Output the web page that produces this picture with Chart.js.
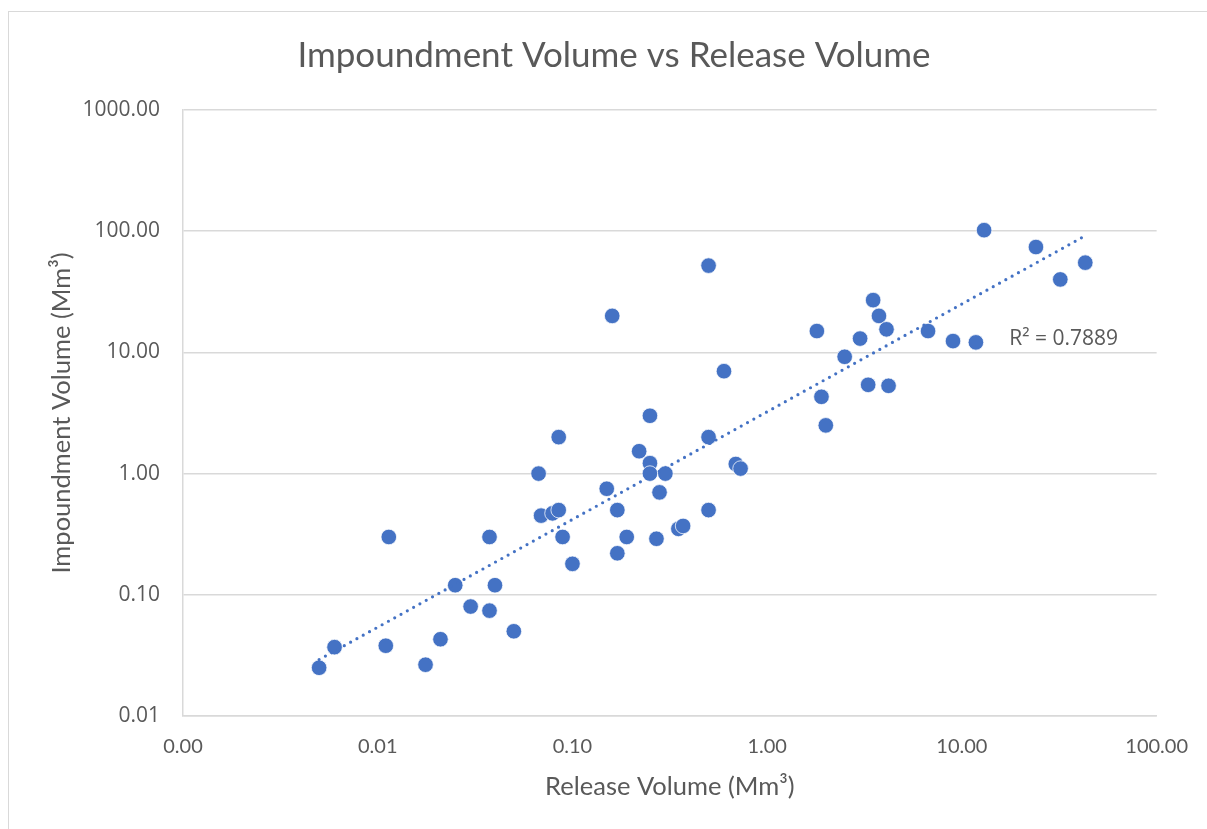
<!DOCTYPE html>
<html>
<head>
<meta charset="utf-8">
<title>Impoundment Volume vs Release Volume</title>
<script src="https://cdn.jsdelivr.net/npm/chart.js@4.4.1/dist/chart.umd.min.js"></script>
<style>
  html, body { margin: 0; padding: 0; background: #fff; overflow: hidden; }
  #frame {
    position: absolute; left: 8px; top: 11px;
    width: 1240px; height: 860px;
    border: 1px solid #d9d9d9; box-sizing: border-box;
  }
  #chart { position: absolute; left: 0; top: 0; }
</style>
</head>
<body>
<div id="frame"></div>
<canvas id="chart" width="1207" height="829"></canvas>
<script>
// Release volume (Mm3) for each tailings dam failure
var releaseVolume = [
  0.005, 0.006, 0.0114, 0.011, 0.0176, 0.021, 0.025, 0.030, 0.0375, 0.0375,
  0.040, 0.050, 0.067, 0.069, 0.079, 0.085, 0.085, 0.089, 0.100, 0.150,
  0.160, 0.170, 0.170, 0.190, 0.220, 0.250, 0.250, 0.250, 0.270, 0.280,
  0.300, 0.350, 0.370, 0.500, 0.500, 0.500, 0.600, 0.690, 0.730, 1.80,
  1.90, 2.00, 2.50, 3.00, 3.30, 3.50, 3.75, 4.10, 4.20, 6.70,
  9.00, 11.8, 13.0, 24.0, 32.0, 43.0
];

// Impoundment volume (Mm3), same order
var impoundmentVolume = [
  0.025, 0.037, 0.30, 0.038, 0.0265, 0.043, 0.12, 0.080, 0.30, 0.074,
  0.12, 0.050, 1.00, 0.45, 0.47, 0.50, 2.0, 0.30, 0.18, 0.75,
  20, 0.50, 0.22, 0.30, 1.53, 3.0, 1.22, 1.00, 0.29, 0.70,
  1.00, 0.35, 0.37, 52, 2.0, 0.50, 7.0, 1.2, 1.1, 15,
  4.3, 2.5, 9.2, 13, 5.4, 27, 20, 15.5, 5.3, 15,
  12.4, 12.1, 102, 74, 40, 55
];

var xTickValues = [0.001, 0.01, 0.1, 1, 10, 100];
var yTickValues = [0.01, 0.1, 1, 10, 100, 1000];

var chartTitle = "Impoundment Volume vs Release Volume";
var r2Text = "R\u00B2 = 0.7889";
var r2LabelAt = [17.5, 13];

var BLUE = "#4472C4";
var GREY = "#595959";

var points = releaseVolume.map(function (x, i) {
  return { x: x, y: impoundmentVolume[i] };
});

// power trendline: least squares on log10 of both axes
function powerFit(xs, ys) {
  var n = xs.length, sx = 0, sy = 0, sxx = 0, sxy = 0;
  for (var i = 0; i < n; i++) {
    var lx = Math.log10(xs[i]), ly = Math.log10(ys[i]);
    sx += lx; sy += ly; sxx += lx * lx; sxy += lx * ly;
  }
  var b = (n * sxy - sx * sy) / (n * sxx - sx * sx);
  var a = (sy - b * sx) / n;
  return function (x) { return Math.pow(10, a + b * Math.log10(x)); };
}
var fit = powerFit(releaseVolume, impoundmentVolume);
var xMin = Math.min.apply(null, releaseVolume);
var xMax = Math.max.apply(null, releaseVolume);
var trend = [{ x: xMin, y: fit(xMin) }, { x: xMax, y: fit(xMax) }];

// title centred on the whole frame, plus the R² note beside the trend
var extraText = {
  id: "extraText",
  afterDatasetsDraw: function (chart) {
    var c = chart.ctx;
    c.save();
    c.fillStyle = GREY;
    c.textBaseline = "middle";

    c.font = "35px Lato";
    c.textAlign = "center";
    c.fillText(chartTitle, 614, 56);

    var px = chart.scales.x.getPixelForValue(r2LabelAt[0]);
    var py = chart.scales.y.getPixelForValue(r2LabelAt[1]);
    c.font = "21px 'Open Sans'";
    c.textAlign = "left";
    c.fillText(r2Text, px, py);
    c.restore();
  }
};

function decadeTicks(values) {
  return function (scale) {
    scale.ticks = values.map(function (v) { return { value: v }; });
  };
}

new Chart(document.getElementById("chart"), {
  data: {
    datasets: [
      {
        type: "line",
        label: "Power trend",
        data: trend,
        borderColor: BLUE,
        borderWidth: 3.2,
        borderDash: [0, 7.2],
        borderCapStyle: "round",
        pointRadius: 0,
        fill: false,
        order: 0
      },
      {
        type: "scatter",
        label: "Impoundment Volume",
        data: points,
        backgroundColor: BLUE,
        borderColor: "#ffffff",
        borderWidth: 0.75,
        pointRadius: 7.8,
        order: 1
      }
    ]
  },
  options: {
    responsive: false,
    animation: false,
    layout: { padding: { left: 0, right: 48, top: 110, bottom: 0 } },
    plugins: {
      legend: { display: false },
      tooltip: { enabled: false },
      title: { display: false }
    },
    scales: {
      x: {
        type: "logarithmic",
        min: 0.001,
        max: 100,
        afterBuildTicks: decadeTicks(xTickValues),
        afterFit: function (scale) { scale.height = 113; },
        grid: { display: false, drawTicks: false },
        border: { display: true, color: "#d9d9d9", width: 1.5 },
        ticks: {
          color: GREY,
          font: { family: "Lato", size: 20 },
          padding: 19,
          maxRotation: 0,
          callback: function (v) { return Number(v).toFixed(2); }
        },
        title: {
          display: true,
          text: "Release Volume (Mm\u00B3)",
          color: GREY,
          font: { family: "Lato", size: 25.5 },
          padding: { top: 0, bottom: 27 }
        }
      },
      y: {
        type: "logarithmic",
        min: 0.01,
        max: 1000,
        afterBuildTicks: decadeTicks(yTickValues),
        afterFit: function (scale) { scale.width = 183; },
        grid: { color: "#d9d9d9", lineWidth: 1.5, drawTicks: false },
        border: { display: true, color: "#d9d9d9", width: 1.5 },
        ticks: {
          color: GREY,
          font: { family: "Open Sans", size: 21 },
          padding: 23,
          callback: function (v) { return Number(v).toFixed(2); }
        },
        title: {
          display: true,
          text: "Impoundment Volume (Mm\u00B3)",
          color: GREY,
          font: { family: "Lato", size: 25.5 },
          padding: { top: 46, bottom: 0 }
        }
      }
    }
  },
  plugins: [extraText]
});
</script>
</body>
</html>
